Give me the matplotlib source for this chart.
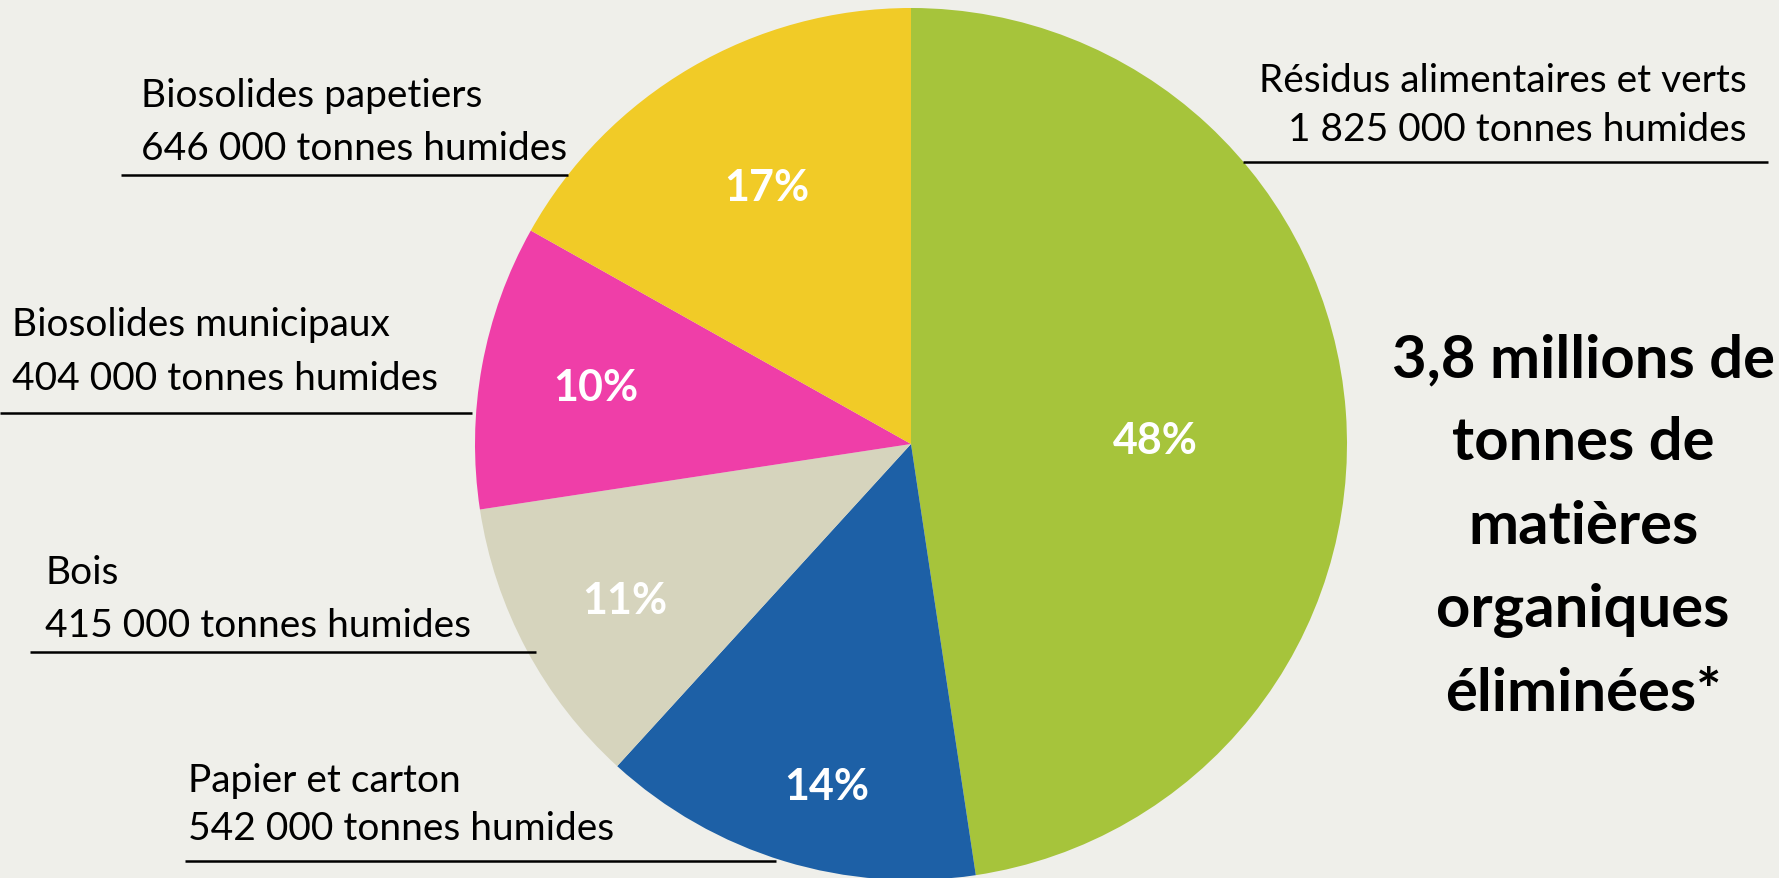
import matplotlib
matplotlib.use("Agg")
import matplotlib.pyplot as plt
import numpy as np

# ---- data ----
categories = ["Résidus alimentaires et verts", "Papier et carton", "Bois",
              "Biosolides municipaux", "Biosolides papetiers"]
tonnes = [1825000, 542000, 415000, 404000, 646000]
tonnes_labels = ["1 825 000 tonnes humides", "542 000 tonnes humides",
                 "415 000 tonnes humides", "404 000 tonnes humides",
                 "646 000 tonnes humides"]
pct_labels = ["48%", "14%", "11%", "10%", "17%"]
colors = ["#A6C43B", "#1D60A6", "#D6D4BD", "#EF3EA8", "#F1CB27"]
total_text = "3,8 millions de\ntonnes de\nmatières\norganiques\néliminées*"

BG = "#EFEFEA"
W, H = 1779, 879
fig = plt.figure(figsize=(W / 100, H / 100), dpi=100, facecolor=BG)
ax = fig.add_axes([0, 0, 1, 1])
ax.set_facecolor(BG)

def Y(y):  # convert top-down pixel to axes coord
    return H - y

cx, cy, R = 911, 445, 436
wedges, _ = ax.pie(tonnes, colors=colors, startangle=90, counterclock=False,
                   center=(cx, Y(cy)), radius=R, frame=True,
                   wedgeprops=dict(linewidth=0))
ax.set_xlim(0, W)
ax.set_ylim(0, H)
ax.set_aspect("equal")
ax.axis("off")

FONT = "Lato"
# percentage label positions (pixel, top-down)
pct_pos = [(1155, 441), (827, 787), (625, 601), (596, 388), (767, 188)]
for lab, (x, y) in zip(pct_labels, pct_pos):
    ax.text(x, Y(y), lab, color="white", fontsize=31, fontweight="bold",
            family=FONT, ha="center", va="center")

# category labels: (x, y_line1, y_line2, ha, underline x0, x1, y)
label_pos = [
    (1747, 81, 130, "right", 1243, 1768, 163),
    (188, 781, 829, "left", 185, 776, 862),
    (45, 573, 626, "left", 30, 536, 653),
    (12, 325, 379, "left", 0, 472, 414),
    (141, 96, 149, "left", 121, 568, 176),
]
for cat, tl, (x, y1, y2, ha, ux0, ux1, uy) in zip(categories, tonnes_labels, label_pos):
    ax.text(x, Y(y1), cat, fontsize=28, family=FONT, ha=ha, va="center", color="black")
    ax.text(x, Y(y2), tl, fontsize=28, family=FONT, ha=ha, va="center", color="black")
    ax.plot([ux0, ux1], [Y(uy), Y(uy)], color="black", lw=1.8, solid_capstyle="butt")

ax.text(1583, Y(527), total_text, fontsize=43, fontweight="bold", family=FONT,
        ha="center", va="center", multialignment="center", linespacing=1.66,
        color="black")

fig.savefig("out.png", dpi=100, facecolor=BG)
